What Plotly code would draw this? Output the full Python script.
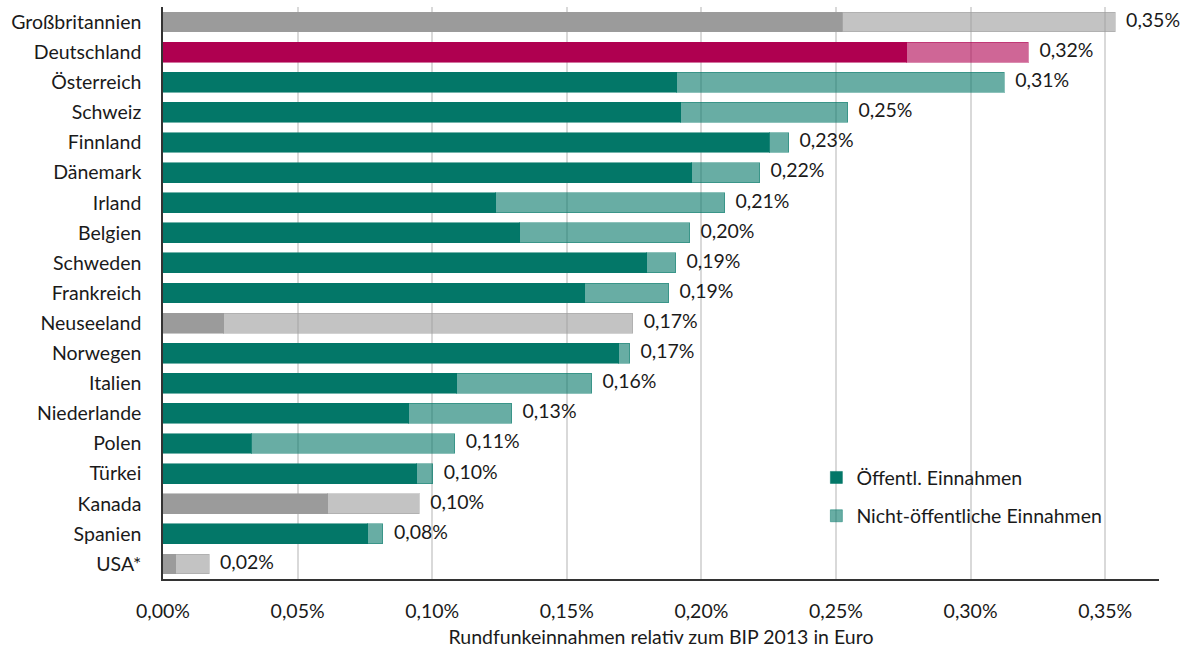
import plotly.graph_objects as go

# Broadcasting revenue relative to GDP 2013, in percent
countries = ["Großbritannien", "Deutschland", "Österreich", "Schweiz", "Finnland",
             "Dänemark", "Irland", "Belgien", "Schweden", "Frankreich", "Neuseeland",
             "Norwegen", "Italien", "Niederlande", "Polen", "Türkei", "Kanada",
             "Spanien", "USA*"]
public_share = [0.2524, 0.2762, 0.1908, 0.1923, 0.2253, 0.1964, 0.1236, 0.1325,
                0.1797, 0.1566, 0.0226, 0.1693, 0.1091, 0.0913, 0.0327, 0.0943,
                0.0612, 0.0761, 0.0048]
private_share = [0.1013, 0.0453, 0.1217, 0.0620, 0.0071, 0.0252, 0.0850, 0.0631,
                 0.0107, 0.0312, 0.1519, 0.0040, 0.0501, 0.0382, 0.0757, 0.0059,
                 0.0340, 0.0056, 0.0123]
# colour group per country: teal = highlighted in legend, pink = Germany, grey = others
groups = ["grey", "pink", "teal", "teal", "teal", "teal", "teal", "teal", "teal",
          "teal", "grey", "teal", "teal", "teal", "teal", "teal", "grey", "teal", "grey"]
x_ticks = [0.0, 0.05, 0.10, 0.15, 0.20, 0.25, 0.30, 0.35]
legend_names = ["Öffentl. Einnahmen", "Nicht-öffentliche Einnahmen"]
x_title = "Rundfunkeinnahmen relativ zum BIP 2013 in Euro"

palette = {
    "teal": (3, 119, 104),
    "pink": (175, 0, 80),
    "grey": (155, 155, 155),
}

FONT = "Lato, 'Open Sans', sans-serif"
FS = 19.5
TEXT_COLOR = "#1a1a1a"


def pct(v):
    return f"{v:.2f}".replace(".", ",") + "%"


def rgba(rgb, a):
    return f"rgba({rgb[0]},{rgb[1]},{rgb[2]},{a})"


fig = go.Figure()

for grp in ["teal", "pink", "grey"]:
    rgb = palette[grp]
    dark = [p if g == grp else None for p, g in zip(public_share, groups)]
    light = [q if g == grp else None for q, g in zip(private_share, groups)]
    is_teal = grp == "teal"
    fig.add_trace(go.Bar(
        y=countries, x=dark, orientation="h",
        name=legend_names[0], showlegend=is_teal, legend="legend",
        marker=dict(color=rgba(rgb, 1), line=dict(color=rgba(rgb, 0.55), width=1)),
        hoverinfo="skip",
    ))
    fig.add_trace(go.Bar(
        y=countries, x=light, orientation="h",
        name=legend_names[1], showlegend=is_teal, legend="legend2",
        marker=dict(color=rgba(rgb, 0.6), line=dict(color=rgba(rgb, 0.45), width=1)),
        hoverinfo="skip",
    ))

totals = [p + q for p, q in zip(public_share, private_share)]
fig.add_trace(go.Scatter(
    y=countries, x=totals, mode="text",
    text=["\u2002\u200a" + pct(round(t, 2)) for t in totals],
    textposition="middle right",
    textfont=dict(family=FONT, size=FS, color=TEXT_COLOR),
    showlegend=False, hoverinfo="skip", cliponaxis=False,
))

fig.update_layout(
    width=1187, height=648,
    margin=dict(l=163, r=28, t=7, b=69, autoexpand=False),
    barmode="stack", bargap=0.34,
    plot_bgcolor="white", paper_bgcolor="white",
    font=dict(family=FONT, size=FS, color=TEXT_COLOR),
    legend=dict(x=0.656, y=0.177, xanchor="left", yanchor="middle",
                bgcolor="rgba(0,0,0,0)", font=dict(size=FS), itemwidth=30),
    legend2=dict(x=0.656, y=0.110, xanchor="left", yanchor="middle",
                 bgcolor="rgba(0,0,0,0)", font=dict(size=FS), itemwidth=30),
)

fig.update_xaxes(
    range=[0, 0.37],
    tickvals=x_ticks, ticktext=[pct(v) for v in x_ticks],
    showgrid=True, gridcolor="#d9d9d9", gridwidth=1.5,
    zeroline=False,
    showline=True, linecolor="#333333", linewidth=1.5,
    ticks="", ticklabelstandoff=14, automargin=False,
    title=dict(text=x_title, standoff=11, font=dict(size=FS)),
)
fig.update_yaxes(
    range=[len(countries) - 0.5, -0.5],
    showgrid=False, zeroline=False,
    showline=True, linecolor="#333333", linewidth=1.5,
    ticks="", ticklabelstandoff=16, automargin=False,
)

fig.write_html("out.html")
